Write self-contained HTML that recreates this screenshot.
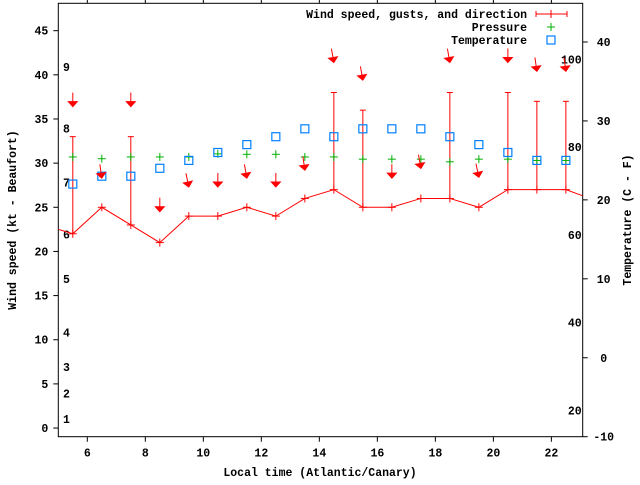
<!DOCTYPE html>
<html><head><meta charset="utf-8"><style>
html,body{margin:0;padding:0;background:#fff;}
svg text{font-family:"Liberation Mono",monospace;font-weight:bold;font-size:11.5px;fill:#000;}
</style></head><body>
<svg id="chart" width="640" height="480" xmlns="http://www.w3.org/2000/svg">
<g id="axes"></g>
<g id="marks"></g>
<g id="legend"></g>
</svg>
<script>
const hours=[5.5,6.5,7.5,8.5,9.5,10.5,11.5,12.5,13.5,14.5,15.5,16.5,17.5,18.5,19.5,20.5,21.5,22.5];
const speed=[22,25,23,21,24,24,25,24,26,27,25,25,26,26,25,27,27,27];
const gust=[33,25,33,21,24,24,25,24,26,38,36,25,26,38,25,38,37,37];
const pressure=[30.7,30.5,30.7,30.7,30.7,31.05,31,31,30.7,30.7,30.45,30.45,30.45,30.15,30.45,30.45,30.3,30.3];
const temperature=[22,23,23,24,25,26,27,28,29,28,29,29,29,28,27,26,25,25];
const arrowY=[36.4,28.3,36.4,24.5,27.3,27.3,28.3,27.3,29.2,41.4,39.4,28.3,29.4,41.4,28.4,41.4,40.4,40.4];
const arrowTilt=[0,8,0,0,12,0,10,0,8,10,10,0,10,10,12,0,8,8];
const speedEdge=[[4.5,23],[23.5,25.8]];
const xTicks=[6,8,10,12,14,16,18,20,22];
const yTicks=[0,5,10,15,20,25,30,35,40,45];
const y2Ticks=[-10,0,10,20,30,40];
const beaufort=[[1,1.0],[2,3.9],[3,6.9],[4,10.8],[5,16.9],[6,21.9],[7,27.8],[8,33.9],[9,40.9]];
const fahr=[100,80,60,40,20];

const L=58.3,R=582.7,T=3.3,B=436.7;
const xmin=5.0,xmax=23.08,ymin=-0.98,ymax=48.1,y2min=-10,y2max=44.9;
const X=v=>L+(v-xmin)/(xmax-xmin)*(R-L);
const Y=v=>B-(v-ymin)/(ymax-ymin)*(B-T);
const Y2=v=>B-(v-y2min)/(y2max-y2min)*(B-T);
const NS="http://www.w3.org/2000/svg";
function mk(tag,attrs,parent,text){const e=document.createElementNS(NS,tag);for(const k in attrs)e.setAttribute(k,attrs[k]);if(text!==undefined)e.textContent=text;parent.appendChild(e);return e;}
const ax=document.getElementById('axes'),mg=document.getElementById('marks'),lg=document.getElementById('legend');
const RED="#ff0000",GRN="#00b000",BLU="#0080ff";

let e=mk('rect',{x:L,y:T,width:R-L,height:B-T,fill:'none',stroke:'#000','stroke-width':1},ax);


xTicks.forEach(t=>{const x=X(t);
 mk('line',{x1:x,y1:B,x2:x,y2:B+5,stroke:'#000'},ax);
 mk('line',{x1:x,y1:T,x2:x,y2:T-5,stroke:'#000'},ax);
 const tx=mk('text',{x:x,y:B+20,'text-anchor':'middle'},ax,String(t));
 
 
});
yTicks.forEach(t=>{const y=Y(t);
 mk('line',{x1:L-5,y1:y,x2:L,y2:y,stroke:'#000'},ax);
 const tx=mk('text',{x:L-10,y:y+4,'text-anchor':'end'},ax,String(t));
 
 
});
y2Ticks.forEach(t=>{const y=Y2(t);
 mk('line',{x1:R,y1:y,x2:R+5,y2:y,stroke:'#000'},ax);
 const tx=mk('text',{x:R+21,y:y+4,'text-anchor':'middle'},ax,String(t));
 
 
});
beaufort.forEach(b=>{const tx=mk('text',{x:63,y:Y(b[1])+4},ax,String(b[0]));
 
 
});
fahr.forEach(f=>{const tx=mk('text',{x:R-1,y:Y2((f-32)*5/9)+4,'text-anchor':'end'},ax,String(f));
 
 
});
e=mk('text',{x:320,y:476,'text-anchor':'middle'},ax,'Local time (Atlantic/Canary)');


e=mk('text',{x:0,y:0,'text-anchor':'middle',transform:'translate(16,220) rotate(-90)'},ax,'Wind speed (kt - Beaufort)');


e=mk('text',{x:0,y:0,'text-anchor':'middle',transform:'translate(631,220) rotate(-90)'},ax,'Temperature (C - F)');



mk('clipPath',{id:'clip'},mg);
mk('rect',{x:L,y:T,width:R-L,height:B-T},document.getElementById('clip'));
const pts=[[speedEdge[0][0],speedEdge[0][1]]].concat(hours.map((h,i)=>[h,speed[i]])).concat([[speedEdge[1][0],speedEdge[1][1]]]);
e=mk('polyline',{points:pts.map(p=>X(p[0])+','+Y(p[1])).join(' '),fill:'none',stroke:RED,'stroke-width':1,'clip-path':'url(#clip)'},mg);


function plus(x,y,c,parent,name){const g=mk('g',{},parent);
 
 
 mk('line',{x1:x-4,y1:y,x2:x+4,y2:y,stroke:c},g);mk('line',{x1:x,y1:y-4,x2:x,y2:y+4,stroke:c},g);return g;}
hours.forEach((h,i)=>{const x=X(h);
 if(gust[i]>speed[i]){const g=mk('g',{},mg);
  
  
  mk('line',{x1:x,y1:Y(speed[i]),x2:x,y2:Y(gust[i]),stroke:RED},g);
  mk('line',{x1:x-3,y1:Y(gust[i]),x2:x+3,y2:Y(gust[i]),stroke:RED},g);
 }
 plus(x,Y(speed[i]),RED,mg,'wind-speed-point');
});
hours.forEach((h,i)=>plus(X(h),Y(pressure[i]),GRN,mg,'pressure-point'));
hours.forEach((h,i)=>{e=mk('rect',{x:X(h)-4,y:Y2(temperature[i])-4,width:8,height:8,fill:'none',stroke:BLU,'stroke-width':1.2},mg);
 
 });
hours.forEach((h,i)=>{const tx=X(h),ty=Y(arrowY[i]);const a=arrowTilt[i]*Math.PI/180;
 const len=14,dx=Math.sin(a),dy=Math.cos(a);
 const g=mk('g',{},mg);
 
 
 mk('line',{x1:tx-dx*len,y1:ty-dy*len,x2:tx,y2:ty,stroke:RED},g);
 const bx=tx-dx*5,by=ty-dy*5,px=dy*4.5,py=-dx*4.5;
 mk('polygon',{points:`${tx},${ty} ${bx+px},${by+py} ${bx-px},${by-py}`,fill:RED,stroke:RED},g);
});

const ly=[14,27,40];
e=mk('text',{x:527,y:ly[0]+4,'text-anchor':'end'},lg,'Wind speed, gusts, and direction');


e=mk('g',{},lg);


mk('line',{x1:536,y1:ly[0],x2:567,y2:ly[0],stroke:RED},e);
mk('line',{x1:536,y1:ly[0]-3,x2:536,y2:ly[0]+3,stroke:RED},e);
mk('line',{x1:567,y1:ly[0]-3,x2:567,y2:ly[0]+3,stroke:RED},e);
mk('line',{x1:551,y1:ly[0]-4,x2:551,y2:ly[0]+4,stroke:RED},e);
e=mk('text',{x:527,y:ly[1]+4,'text-anchor':'end'},lg,'Pressure');


plus(551,ly[1],GRN,lg,'legend-sample-pressure');
e=mk('text',{x:527,y:ly[2]+4,'text-anchor':'end'},lg,'Temperature');


e=mk('rect',{x:547,y:ly[2]-4,width:8,height:8,fill:'none',stroke:BLU,'stroke-width':1.2},lg);


</script>
</body></html>
